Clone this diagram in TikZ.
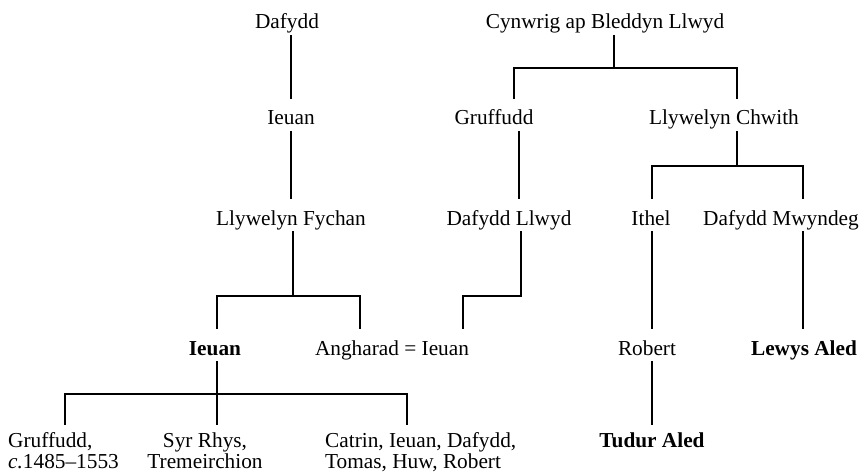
\documentclass[tikz,border=0pt]{standalone}
\usepackage{fontspec}
\setmainfont{Liberation Serif}
\begin{document}
\begin{tikzpicture}[x=1pt,y=-1pt,
  person/.style={inner sep=0pt, anchor=base, text height=26pt, text depth=6pt,
    font=\fontsize{21.3}{21.5}\selectfont},
  lead/.style={person, font=\fontsize{21.3}{21.5}\selectfont\bfseries},
  issue/.style={person, text height=22pt},
  line/.style={line width=2.4pt}]
\useasboundingbox (0,0) rectangle (861,473);

% first generation
\node[person] (dafydd)  at (287,29) {Dafydd};
\node[person] (cynwrig) at (605,29) {Cynwrig ap Bleddyn Llwyd};

% second generation
\node[person] (ieuan1)    at (291,125) {Ieuan};
\node[person] (gruffudd1) at (494,125) {Gruffudd};
\node[person] (chwith)    at (724,125) {Llywelyn Chwith};

% third generation
\node[person] (llfychan) at (291,225) {Llywelyn Fychan};
\node[person] (dllwyd)   at (509,225) {Dafydd Llwyd};
\node[person] (ithel)    at (651,225) {Ithel};
\node[person] (mwyndeg)  at (781,225) {Dafydd Mwyndeg};

% fourth generation
\node[lead]   (ieuan2)   at (215,355) {Ieuan};
\node[person] (angharad) at (392,355) {Angharad = Ieuan};
\node[person] (robert)   at (647,355) {Robert};
\node[lead]   (lewys)    at (804,355) {Lewys Aled};

% fifth generation
\node[issue, anchor=base west] (gruffudd2) at (8,447)
  {\begin{tabular}[t]{@{}l@{}}Gruffudd,\\\textit{c.}1485--1553\end{tabular}};
\node[issue] (rhys) at (205,447)
  {\begin{tabular}[t]{@{}c@{}}Syr Rhys,\\Tremeirchion\end{tabular}};
\node[issue, anchor=base west] (catrin) at (325,447)
  {\begin{tabular}[t]{@{}l@{}}Catrin, Ieuan, Dafydd,\\Tomas, Huw, Robert\end{tabular}};
\node[issue, font=\fontsize{21.3}{21.5}\selectfont\bfseries] (tudur) at (652,447) {Tudur Aled};

% line columns and bracket junctions
\coordinate (colL) at (291,0);
\coordinate (colG) at (519,0);
\coordinate (famA)  at (293,296);
\coordinate (famAl) at (217,296);
\coordinate (famAr) at (360,296);
\coordinate (llwydK)  at (521,296);
\coordinate (llwydK2) at (463,296);
\coordinate (cynJ) at (614,68);
\coordinate (cynL) at (514,68);
\coordinate (cynR) at (737,68);
\coordinate (chwJ) at (737,166);
\coordinate (chwL) at (652,166);
\coordinate (chwR) at (803,166);
\coordinate (ieuJ) at (217,394);
\coordinate (ieuL) at (65,394);
\coordinate (ieuR) at (407,394);

% descent of Dafydd
\draw[line] (dafydd.south -| colL) -- (ieuan1.north -| colL);
\draw[line] (ieuan1.south -| colL) -- (llfychan.north -| colL);
\draw[line] (llfychan.south -| famA) -- (famA);
\draw[line] (ieuan2.north -| famAl) -- (famAl) -- (famAr) -- (angharad.north -| famAr);

% descent of Cynwrig
\draw[line] (cynwrig.south -| cynJ) -- (cynJ);
\draw[line] (gruffudd1.north -| cynL) -- (cynL) -- (cynR) -- (chwith.north -| cynR);
\draw[line] (gruffudd1.south -| colG) -- (dllwyd.north -| colG);
\draw[line] (dllwyd.south -| llwydK) -- (llwydK) -- (llwydK2) -- (angharad.north -| llwydK2);
\draw[line] (chwith.south -| chwJ) -- (chwJ);
\draw[line] (ithel.north -| chwL) -- (chwL) -- (chwR) -- (mwyndeg.north -| chwR);
\draw[line] (ithel.south -| chwL) -- (robert.north -| chwL);
\draw[line] (mwyndeg.south -| chwR) -- (lewys.north -| chwR);
\draw[line] (robert.south -| chwL) -- (tudur.north -| chwL);

% children of Ieuan
\draw[line] (ieuan2.south -| ieuJ) -- (ieuJ);
\draw[line] (gruffudd2.north -| ieuL) -- (ieuL) -- (ieuR) -- (catrin.north -| ieuR);
\draw[line] (ieuJ) -- (rhys.north -| ieuJ);
\end{tikzpicture}
\end{document}
